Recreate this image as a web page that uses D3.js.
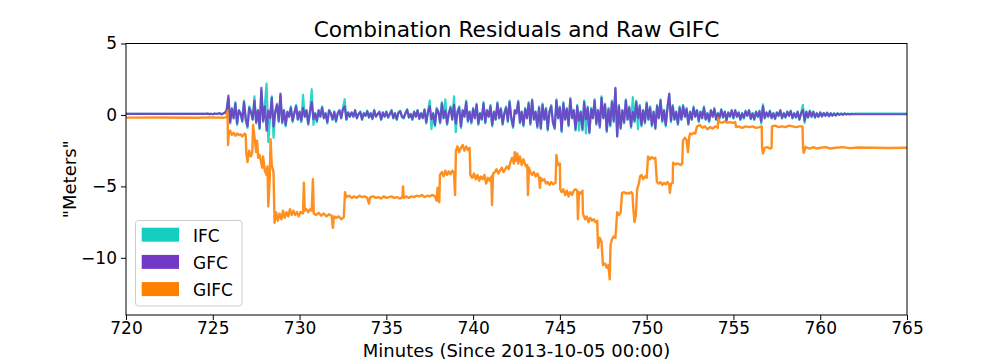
<!DOCTYPE html>
<html><head><meta charset="utf-8">
<script src="https://cdn.jsdelivr.net/npm/d3@7"></script>
<style>body{margin:0;background:#fff}text{font-family:"DejaVu Sans",sans-serif;fill:#000}</style>
</head><body><svg id="c" width="1008" height="360"></svg>
<script>
const title = "Combination Residuals and Raw GIFC";
const xLabel = "Minutes (Since 2013-10-05 00:00)";
const yLabel = "\"Meters\"";
const xTicks = [720,725,730,735,740,745,750,755,760,765];
const yTicks = [5,0,-5,-10];
const seriesNames = ["IFC","GFC","GIFC"];
const seriesColors = ["#12cfc0","#7339c6","#ff8000"];

// residual samples: start minute, step in minutes
const residStart = 724.6, residStep = 0.1;
const residLead = [720, 0.07];
const gfcTail = [765, 0.05];
const ifcTail = [765, 0.09];
const gfcValues = [
0.07,0.09,0.06,0.08,0.05,0.1,0.07,0.09,0.12,0.04,0.1,0.15,
0.3,1.35,
-0.5,0.4,-0.2,0.8,-0.6,0.3,0.1,-0.4,0.9,-0.3,
-0.8,0.5,0.2,-0.3,1.0,-0.5,0.3,-0.9,1.9,-0.4,
0.6,-1.1,0.3,-0.2,1.2,-0.8,0.2,0.7,-0.4,1.5,
-0.5,0.3,-0.7,0.2,-0.1,0.5,-0.4,0.1,0.6,-0.3,
0.2,-0.4,0.5,-0.1,0.3,-0.6,0.2,0.9,-0.3,0.1,
-0.4,0.3,-0.1,0.5,-0.2,0.1,-0.5,0.3,0.1,-0.3,
0.2,-0.4,0.1,0.3,-0.2,0.4,0.6,-0.3,0.15,-0.1,
0.15,-0.1,0.3,-0.2,0.05,0.2,-0.3,0.1,-0.05,0.25,
-0.15,0.1,-0.25,0.3,-0.1,0.05,0.2,-0.3,0.15,-0.1,
0.2,-0.15,0.05,0.3,-0.2,0.1,-0.3,0.15,0.25,-0.1,
-0.2,0.1,0.35,-0.15,0.05,-0.3,0.2,-0.1,0.3,-0.25,
0.1,-0.2,0.35,-0.5,0.2,0.6,-0.3,0.1,-0.7,0.4,
0.2,-0.5,0.8,-0.2,0.3,-0.6,0.1,0.5,-0.3,0.7,
-0.6,0.2,0.5,-0.8,0.3,-0.1,0.9,-0.4,0.2,-0.5,
0.4,-0.2,0.7,-0.6,0.1,-0.3,0.8,-0.5,0.3,-0.1,
0.6,-0.7,0.2,-0.3,0.8,-0.2,0.4,-0.6,0.1,0.5,
-0.4,0.9,-0.2,-0.8,0.3,0.1,0.9,-0.5,0.2,-0.7,
0.4,-0.2,0.8,-0.6,1.0,-0.3,0.2,-0.8,0.5,-0.9,
0.7,-0.3,0.4,-1.0,0.2,0.6,-0.5,-0.9,1.0,-0.2,
0.5,-1.1,0.8,-0.3,0.4,-0.7,1.1,-0.2,0.3,-1.0,
0.6,-0.4,0.2,-1.0,0.9,-0.3,0.5,-1.2,0.4,-0.2,
1.0,-0.6,0.3,-0.8,1.2,-0.2,0.7,-1.1,0.4,-0.7,
0.9,-0.4,1.9,-1.5,0.6,-0.9,0.3,-0.5,1.0,-0.3,
0.5,-0.8,0.2,-0.4,0.9,-0.2,0.6,-0.7,0.3,-0.5,
0.8,-0.3,0.5,-0.7,0.2,-0.9,0.6,-0.2,1.0,-0.4,
0.3,-0.7,0.5,1.5,-0.4,0.6,-0.3,0.2,-0.6,0.5,
-0.3,0.6,-0.1,0.4,-0.6,0.2,-0.3,0.5,-0.1,0.3,
-0.4,0.2,-0.2,0.5,-0.3,0.1,-0.4,0.3,-0.1,0.4,
-0.3,0.1,-0.2,0.35,-0.15,0.2,-0.35,0.15,-0.1,0.3,
-0.2,0.3,-0.1,0.15,-0.3,0.1,-0.2,0.25,-0.05,0.3,
-0.25,0.1,-0.3,0.2,-0.1,0.25,-0.45,0.6,-0.2,0.15,
-0.1,0.25,-0.2,0.1,-0.25,0.15,-0.05,0.3,-0.2,0.1,
-0.15,0.2,-0.05,0.25,-0.2,0.1,-0.15,0.2,-0.3,0.1,
0.35,-0.4,0.2,-0.15,0.25,-0.1,0.2,-0.15,0.1,-0.12,
0.15,-0.1,0.12,-0.05,0.14,-0.08,0.1,-0.04,0.09,-0.03,
0.1,0.0,0.08,0.01,0.09,0.03,0.07,0.04,0.06,0.05,
0.05];
const ifcValues = [
0.07,0.09,0.06,0.08,0.05,0.1,0.07,0.09,0.12,0.04,0.1,0.15,
0.4,1.2,
-0.6,0.5,-0.25,0.9,-0.7,0.35,0.15,-0.5,1.0,-0.35,
-0.9,0.6,0.25,-0.35,1.3,-0.6,0.35,-1.0,1.7,-0.5,
0.7,2.2,-1.9,-0.25,1.3,-1.6,0.25,0.8,-0.5,1.4,
-0.6,0.35,-0.8,0.25,-0.15,0.6,-0.5,0.15,0.7,-0.35,
0.25,-0.5,1.4,-0.15,0.35,-0.7,0.25,1.8,-0.7,0.15,
-0.5,0.35,-0.15,0.6,-0.25,0.15,-0.6,0.35,0.15,-0.35,
0.25,-0.5,0.15,0.35,-0.25,0.5,1.1,-0.35,0.2,-0.15,
0.2,-0.15,0.35,-0.25,0.08,0.25,-0.35,0.15,-0.08,0.3,
-0.2,0.15,-0.3,0.35,-0.15,0.08,0.25,-0.35,0.2,-0.15,
0.25,-0.2,0.08,0.35,-0.25,0.15,-0.35,0.2,0.3,-0.15,
-0.25,0.15,0.4,-0.2,0.08,-0.35,0.25,-0.15,0.35,-0.3,
0.15,-0.25,0.4,-0.6,0.25,1.0,-1.0,0.15,-0.8,0.5,
0.25,-0.6,0.9,-0.25,1.1,-0.7,0.15,0.6,-0.35,1.3,
-1.2,0.25,0.6,-0.9,0.35,-0.15,1.0,-0.5,0.25,-0.6,
0.5,-0.25,0.8,-0.7,0.15,-0.35,0.9,-0.6,0.35,-0.15,
0.7,-0.8,0.25,-0.35,0.9,-0.25,0.5,-0.7,0.15,0.6,
-0.5,1.0,-0.25,-0.9,0.35,0.15,1.0,-0.6,0.25,-0.8,
0.5,-0.25,0.9,-0.7,1.1,-0.35,0.25,-0.9,0.6,-1.0,
0.8,-0.35,0.5,-1.1,0.25,0.7,-0.6,-1.0,1.1,-0.25,
0.6,-1.2,0.9,-0.35,0.5,-0.8,1.2,-0.25,0.35,-1.1,
0.7,-1.1,0.25,-1.1,1.0,-1.3,0.6,-1.3,0.5,-0.25,
1.1,-0.7,0.35,-0.9,1.3,-0.25,0.8,-1.2,0.5,-0.8,
1.0,-0.5,1.8,-1.5,0.7,-1.0,0.35,-0.6,1.1,-0.35,
0.6,-0.9,1.25,-0.5,1.0,-1.0,0.7,-0.8,0.35,-0.6,
0.9,-0.35,0.6,-0.8,0.25,-1.0,0.7,-0.25,1.1,-0.5,
0.35,-0.8,0.6,1.4,-0.5,0.7,-0.35,0.25,-0.7,0.6,
-0.35,0.7,-0.15,0.5,-0.7,0.25,-0.35,0.6,-0.15,0.35,
-0.5,0.25,-0.25,0.6,-0.35,0.15,-0.5,0.35,-0.15,0.5,
-0.35,0.15,-0.25,0.4,-0.2,0.25,-0.4,0.2,-0.15,0.35,
-0.25,0.35,-0.15,0.2,-0.35,0.15,-0.25,0.3,-0.08,0.35,
-0.3,0.15,-0.35,0.25,-0.15,0.3,-0.6,0.75,-0.25,0.2,
-0.15,0.3,-0.25,0.15,-0.3,0.2,-0.08,0.35,-0.25,0.15,
-0.2,0.25,-0.08,0.3,-0.25,0.15,-0.2,0.25,-0.35,0.15,
0.7,-0.55,0.25,-0.2,0.3,-0.15,0.25,-0.2,0.15,-0.15,
0.2,-0.12,0.15,-0.08,0.17,-0.1,0.13,-0.06,0.12,-0.04,
0.13,0.02,0.11,0.03,0.12,0.05,0.1,0.06,0.09,0.08,
0.09];
// GIFC raw: [minute, meters]
const gifcPoints = [
[720.0,-0.19],[722.0,-0.18],[724.0,-0.2],[725.0,-0.17],[725.6,-0.2],[725.8,-0.15],[725.85,0.3],[725.88,-2.1],[725.92,-1.3],[726.0,-1.1],[726.1,-1.4],[726.2,-1.25],[726.3,-1.45],[726.4,-1.3],[726.5,-1.4],[726.6,-1.35],[726.7,-1.5],[726.85,-1.3],[726.9,-1.4],
[726.93,-2.6],[727.0,-3.3],[727.1,-2.5],[727.2,-2.9],[727.28,-2.6],[727.32,-0.7],[727.4,-1.5],[727.5,-2.6],[727.55,-1.8],[727.62,-3.0],[727.7,-2.8],[727.8,-3.4],[727.85,-3.7],[727.9,-2.9],[728.0,-3.9],[728.1,-4.2],[728.15,-3.6],[728.2,-6.4],[728.28,-4.5],[728.33,-1.7],[728.4,-3.5],[728.5,-4.0],
[728.56,-7.55],[728.65,-6.8],[728.75,-7.4],[728.85,-6.9],[728.95,-7.3],[729.05,-6.7],[729.15,-7.2],[729.25,-6.8],[729.35,-7.1],[729.45,-6.6],[729.55,-7.0],[729.65,-6.7],[729.75,-7.0],[729.85,-6.8],[729.95,-7.1],[730.05,-6.8],[730.2,-6.9],[730.25,-4.75],[730.3,-6.7],[730.4,-6.6],[730.5,-6.8],[730.6,-6.6],[730.7,-6.7],[730.77,-4.5],[730.82,-6.9],[730.95,-7.0],[731.1,-6.85],[731.25,-7.05],[731.4,-6.9],[731.55,-7.1],[731.7,-6.95],[731.85,-7.05],[731.92,-7.9],[731.98,-7.1],[732.1,-7.2],[732.25,-7.1],[732.4,-7.3],[732.55,-7.15],
[732.62,-5.4],[732.7,-5.75],[732.85,-5.65],[733.0,-5.8],[733.15,-5.7],[733.3,-5.8],[733.45,-5.65],[733.6,-5.75],[733.75,-5.7],[733.9,-5.8],[734.0,-6.2],[734.08,-5.75],[734.25,-5.7],[734.4,-5.8],[734.55,-5.75],[734.7,-5.85],[734.85,-5.7],[735.0,-5.8],[735.15,-5.75],[735.3,-5.7],[735.45,-5.8],[735.6,-5.75],[735.8,-5.85],[735.93,-5.75],[735.96,-5.0],[736.0,-5.8],[736.15,-5.7],[736.3,-5.8],[736.45,-5.7],[736.6,-5.75],[736.75,-5.65],[736.9,-5.7],[737.05,-5.6],[737.2,-5.75],[737.35,-5.65],[737.5,-5.7],[737.65,-5.6],[737.8,-5.7],[737.9,-6.0],[737.95,-5.1],[738.0,-5.9],[738.05,-6.1],
[738.09,-4.2],[738.2,-4.0],[738.3,-4.3],[738.4,-3.9],[738.5,-4.2],[738.6,-3.95],[738.7,-4.15],[738.8,-3.9],[738.9,-4.1],[738.96,-5.6],[739.01,-2.5],[739.1,-2.2],[739.2,-2.6],[739.3,-2.3],[739.4,-2.1],[739.5,-2.5],[739.6,-2.2],[739.7,-2.45],[739.8,-2.3],
[739.84,-4.2],[739.95,-4.4],[740.05,-4.1],[740.15,-4.5],[740.25,-4.2],[740.35,-4.6],[740.45,-4.3],[740.55,-4.5],[740.65,-4.2],[740.75,-4.8],[740.85,-4.4],[740.95,-4.6],[741.05,-4.3],[741.09,-6.3],[741.15,-4.1],[741.25,-4.0],[741.35,-3.8],[741.45,-4.1],[741.55,-3.9],[741.65,-3.7],[741.75,-4.0],[741.85,-3.8],[741.95,-3.6],[742.05,-3.8],
[742.15,-3.3],[742.25,-3.0],[742.35,-3.4],[742.4,-2.6],[742.45,-3.2],[742.55,-2.7],[742.6,-3.4],[742.7,-2.9],[742.8,-3.5],[742.9,-3.1],[742.98,-3.4],[743.05,-3.6],[743.12,-3.5],[743.16,-5.6],[743.22,-3.7],[743.3,-4.0],[743.4,-4.2],[743.5,-4.0],[743.6,-4.3],[743.7,-4.1],[743.8,-4.4],[743.85,-5.1],[743.9,-4.4],[744.0,-4.6],[744.1,-4.5],[744.2,-4.8],[744.3,-4.7],[744.4,-4.9],[744.5,-4.7],[744.6,-4.85],[744.75,-4.75],
[744.8,-2.8],[744.85,-3.3],[744.9,-3.5],[745.0,-3.4],[745.02,-5.2],[745.1,-5.4],[745.2,-5.2],[745.3,-5.6],[745.4,-5.3],[745.5,-5.7],[745.6,-5.4],[745.7,-5.6],[745.8,-5.3],[745.9,-5.2],[746.0,-5.3],[746.04,-7.3],[746.1,-5.4],[746.2,-5.5],[746.3,-5.3],[746.33,-6.9],[746.45,-7.3],[746.55,-7.1],[746.65,-7.5],[746.75,-7.2],[746.85,-7.4],[746.95,-7.3],[747.05,-7.5],[747.15,-7.4],
[747.2,-9.3],[747.3,-8.6],[747.4,-8.9],[747.48,-10.5],[747.6,-10.4],[747.7,-10.7],[747.8,-10.5],[747.87,-11.5],[747.92,-9.1],[748.0,-8.7],[748.1,-8.5],[748.2,-8.6],[748.25,-7.7],[748.3,-6.8],[748.4,-7.0],[748.5,-6.85],[748.58,-5.45],[748.7,-5.4],[748.8,-5.5],[748.9,-5.45],[749.0,-5.5],[749.1,-5.4],[749.18,-5.5],[749.22,-6.4],[749.3,-7.5],[749.38,-7.0],[749.45,-5.2],[749.55,-4.8],[749.62,-4.3],[749.7,-4.2],[749.8,-4.5],[749.9,-4.3],[750.0,-4.4],
[750.08,-2.9],[750.2,-3.1],[750.3,-2.95],[750.4,-3.05],[750.5,-3.0],[750.59,-4.7],[750.7,-4.8],[750.8,-4.7],[750.9,-4.9],[751.0,-4.75],[751.1,-4.85],[751.2,-4.7],[751.3,-4.9],[751.34,-5.45],[751.4,-4.8],[751.5,-4.75],[751.52,-3.35],[751.65,-3.45],[751.8,-3.4],[751.95,-3.5],[752.05,-3.4],
[752.09,-1.8],[752.2,-1.6],[752.3,-1.75],[752.38,-2.6],[752.45,-1.6],[752.5,-1.3],[752.6,-1.35],[752.7,-1.25],[752.8,-1.3],[752.9,-0.8],[753.0,-0.75],[753.07,-0.7],[753.2,-0.9],[753.35,-0.8],[753.5,-1.0],[753.65,-0.85],[753.8,-0.95],[753.95,-0.8],[754.1,-0.9],[754.12,-0.2],[754.2,-0.5],[754.35,-0.55],[754.5,-0.45],[754.65,-0.55],[754.8,-0.5],[754.95,-0.55],[755.1,-0.5],
[755.15,-0.85],[755.3,-0.8],[755.5,-0.9],[755.7,-0.8],[755.9,-0.85],[756.1,-0.8],[756.3,-0.9],[756.5,-0.85],[756.63,-0.8],[756.65,-2.3],[756.7,-2.7],[756.8,-2.3],[756.95,-2.25],[757.1,-2.35],[757.2,-2.3],[757.22,-0.8],[757.4,-0.75],[757.6,-0.85],[757.8,-0.8],[758.0,-0.85],[758.2,-0.75],[758.4,-0.8],[758.6,-0.85],[758.8,-0.8],[758.98,-0.8],
[759.01,-2.3],[759.05,-2.65],[759.15,-2.25],[759.4,-2.35],[759.6,-2.25],[759.8,-2.35],[760.0,-2.3],[760.3,-2.25],[760.6,-2.35],[760.9,-2.3],[761.3,-2.25],[761.7,-2.32],[762.2,-2.28],[763.0,-2.3],[764.0,-2.31],[765.0,-2.3]];

const svg = d3.select("#c");
const L = 126, R = 907, T = 43.5, B = 315;
const x = d3.scaleLinear().domain([720,765]).range([L,R]);
const y = d3.scaleLinear().domain([-14,5]).range([B,T]);

function residSeries(vals, tail){
  const pts = [residLead];
  vals.forEach((v,i)=>pts.push([residStart + i*residStep, v]));
  pts.push(tail);
  return pts;
}
const ifc = residSeries(ifcValues, ifcTail);
const gfc = residSeries(gfcValues, gfcTail);

svg.append("defs").append("clipPath").attr("id","clip")
  .append("rect").attr("x",L).attr("y",T).attr("width",R-L).attr("height",B-T);

const line = d3.line().x(d=>x(d[0])).y(d=>y(d[1]));
const g = svg.append("g").attr("clip-path","url(#clip)");
[[ifc,0,2.2],[gfc,1,2.2],[gifcPoints,2,2.4]].forEach(([data,k,w])=>{
  g.append("path").datum(data).attr("d",line)
   .attr("fill","none").attr("stroke",seriesColors[k]).attr("stroke-opacity",0.88)
   .attr("stroke-width",w).attr("stroke-linejoin","round");
});

// axes
const xAxis = d3.axisBottom(x).tickValues(xTicks).tickSize(5).tickPadding(7).tickFormat(d3.format("d"));
const yAxis = d3.axisLeft(y).tickValues(yTicks).tickSize(5).tickPadding(4).tickFormat(d=>d<0?"\u2212"+Math.abs(d):""+d);
const gx = svg.append("g").attr("transform",`translate(0,${B})`).call(xAxis);
const gy = svg.append("g").attr("transform",`translate(${L},0)`).call(yAxis);
[gx,gy].forEach(a=>{
  a.select(".domain").remove();
  a.selectAll("line").attr("stroke","#000").attr("stroke-width",1);
  a.selectAll("text").attr("font-family","DejaVu Sans").attr("font-size",17).attr("fill","#000");
});
gx.selectAll("text").attr("y",7).attr("dy","0.71em");
// frame
svg.append("rect").attr("x",L).attr("y",T).attr("width",R-L).attr("height",B-T)
  .attr("fill","none").attr("stroke","#000").attr("stroke-width",1);

svg.append("text").attr("x",(L+R)/2).attr("y",37).attr("text-anchor","middle")
  .attr("font-size",21.7).text(title);
svg.append("text").attr("x",(L+R)/2).attr("y",357).attr("text-anchor","middle")
  .attr("font-size",18).text(xLabel);
svg.append("text").attr("transform",`translate(76,${(T+B)/2}) rotate(-90)`).attr("text-anchor","middle")
  .attr("font-size",18).text(yLabel);

// legend
const lg = svg.append("g");
lg.append("rect").attr("x",135.5).attr("y",220.5).attr("width",106.5).attr("height",85.5).attr("rx",3)
  .attr("fill","#fff").attr("fill-opacity",0.8).attr("stroke","#cccccc").attr("stroke-width",1);
seriesNames.forEach((n,i)=>{
  const yy = 227.7 + i*27.2;
  lg.append("rect").attr("x",141.7).attr("y",yy).attr("width",37.3).attr("height",14).attr("fill",seriesColors[i]);
  lg.append("text").attr("x",193).attr("y",yy+14).attr("font-size",17).text(n);
});
</script></body></html>
